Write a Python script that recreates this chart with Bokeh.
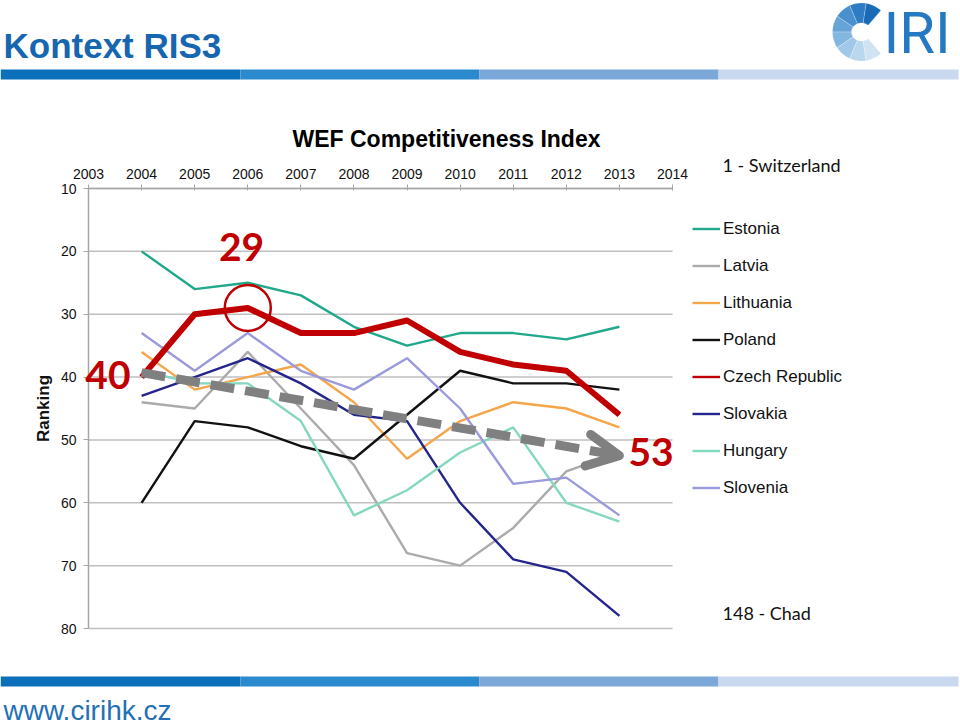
import math
from bokeh.plotting import figure
from bokeh.models import (Range1d, FixedTicker, Label, BoxAnnotation, PolyAnnotation,
                          Arrow, OpenHead, Legend, LegendItem, LinearAxis)
from bokeh.embed import file_html
from bokeh.resources import INLINE

# ---------------- data ----------------
years = [2004, 2005, 2006, 2007, 2008, 2009, 2010, 2011, 2012, 2013]
year_ticks = [2003, 2004, 2005, 2006, 2007, 2008, 2009, 2010, 2011, 2012, 2013, 2014]
rank_ticks = [10, 20, 30, 40, 50, 60, 70, 80]

estonia = [20, 26, 25, 27, 32, 35, 33, 33, 34, 32]
latvia = [44, 45, 36, 45, 54, 68, 70, 64, 55, 52]
lithuania = [36, 42, 40, 38, 44, 53, 47, 44, 45, 48]
poland = [60, 47, 48, 51, 53, 46, 39, 41, 41, 42]
czech = [40, 30, 29, 33, 33, 31, 36, 38, 39, 46]
slovakia = [43, 40, 37, 41, 46, 47, 60, 69, 71, 78]
hungary = [39, 41, 41, 47, 62, 58, 52, 48, 60, 63]
slovenia = [33, 39, 33, 39, 42, 37, 45, 57, 56, 62]

countries = ["Estonia", "Latvia", "Lithuania", "Poland", "Czech Republic",
             "Slovakia", "Hungary", "Slovenia"]
series = [estonia, latvia, lithuania, poland, czech, slovakia, hungary, slovenia]
colors = ["#1FA98A", "#ABABAB", "#F5A54A", "#111111", "#C00000",
          "#24248C", "#84D8C0", "#9A9ADC"]

arrow_from = (2004, 39.3)
arrow_to = (2013, 52.5)
start_label = "40"
peak_label = "29"
end_label = "53"
top_note = "1 - Switzerland"
bottom_note = "148 - Chad"

RED = "#C00000"
GRAY = "#808080"

# ------------- geometry of the chart box on the page -------------
W, H = 960, 726
FL, FT, FW, FH = 88, 188, 584, 440   # chart box (years 2003-2014, ranks 10-80)


def X(px):  # page pixel -> year coordinate
    return year_ticks[0] + (px - FL) * (year_ticks[-1] - year_ticks[0]) / FW


def Y(py):  # page pixel -> rank coordinate
    return rank_ticks[0] + (py - FT) * (rank_ticks[-1] - rank_ticks[0]) / FH


p = figure(width=W, height=H, x_range=Range1d(X(0), X(W)), y_range=Range1d(Y(H), Y(0)),
           x_axis_location=None, y_axis_location=None,
           output_backend="svg", toolbar_location=None,
           min_border=0, min_border_left=0, min_border_right=0,
           min_border_top=0, min_border_bottom=0)
p.outline_line_color = None
p.background_fill_color = "white"
p.border_fill_color = "white"
p.grid.visible = False

AX = "#A6A6A6"
FONT = "Liberation Sans"

xa = LinearAxis(fixed_location=rank_ticks[0], bounds=(year_ticks[0], year_ticks[-1]),
                ticker=FixedTicker(ticks=year_ticks))
xa.axis_line_color = AX
xa.axis_line_width = 1.5
xa.major_tick_line_color = AX
xa.major_tick_out = 4
xa.major_tick_in = 2
xa.minor_tick_line_color = None
xa.major_label_text_font = FONT
xa.major_label_text_font_size = "14px"
xa.major_label_text_color = "#111111"
xa.major_label_standoff = 6
p.add_layout(xa, "above")

ya = LinearAxis(fixed_location=year_ticks[0], bounds=(rank_ticks[0], rank_ticks[-1]),
                ticker=FixedTicker(ticks=rank_ticks))
ya.axis_line_color = AX
ya.axis_line_width = 1.5
ya.major_tick_line_color = AX
ya.major_tick_out = 5
ya.major_tick_in = 0
ya.minor_tick_line_color = None
ya.major_label_text_font = FONT
ya.major_label_text_font_size = "14px"
ya.major_label_text_color = "#111111"
ya.major_label_standoff = 7
ya.axis_label = "Ranking"
ya.axis_label_text_font = FONT
ya.axis_label_text_font_style = "bold"
ya.axis_label_text_font_size = "17px"
ya.axis_label_text_color = "#111111"
ya.axis_label_standoff = 5
p.add_layout(ya, "left")

# horizontal grid lines between the first and last year
p.segment(x0=[year_ticks[0]] * len(rank_ticks), x1=[year_ticks[-1]] * len(rank_ticks),
          y0=rank_ticks, y1=rank_ticks, line_color="#BFBFBF", line_width=1.5)

# ------------- series -------------
renderers = []
for name, vals, col in zip(countries, series, colors):
    renderers.append(p.line(years, vals, line_color=col, line_width=2.4))

# emphasised Czech line
p.line(years, czech, line_color=RED, line_width=6, line_join="round")
p.scatter([years[2]], [czech[2]], marker="circle", size=46, fill_color=None,
          line_color=RED, line_width=2.5)

legend = Legend(items=[LegendItem(label=n, renderers=[r]) for n, r in zip(countries, renderers)],
                location=(692, H - 499), padding=0, margin=0, spacing=14,
                label_height=23, glyph_height=23, glyph_width=28, label_standoff=3,
                label_text_font=FONT, label_text_font_size="17px",
                label_text_color="#111111",
                background_fill_alpha=0, border_line_color=None)
p.add_layout(legend)

p.add_layout(Arrow(end=OpenHead(size=32, line_width=9, line_color=GRAY,
                                line_cap="round", line_join="round"),
                   x_start=arrow_from[0], y_start=arrow_from[1],
                   x_end=arrow_to[0], y_end=arrow_to[1],
                   line_color=GRAY, line_width=9, line_dash="24 11"))


# ------------- texts (y = visual centre of the capitals) -------------
def lab(x, y, text, **kw):
    p.add_layout(Label(x=x, y=y, text=text, text_baseline="middle", **kw))


big = dict(text_font="Lato", text_font_style="bold", text_font_size="39px", text_color=RED)
lab(X(241), Y(246), peak_label, text_align="center", **big)
lab(X(130), Y(374), start_label, text_align="right", **big)
lab(X(628), Y(451), end_label, text_align="left", **big)

lab(X(292), Y(138), "WEF Competitiveness Index", text_font=FONT, text_font_style="bold",
    text_font_size="23px", text_color="#000000")
lab(X(722), Y(164), top_note, text_font="Lato", text_font_size="18px", text_color="#111111")
lab(X(722), Y(612), bottom_note, text_font="Lato", text_font_size="18px", text_color="#111111")

lab(X(3), Y(45), "Kontext RIS3", text_font=FONT, text_font_style="bold",
    text_font_size="35px", text_color="#1766B0")
lab(X(3), Y(710), "www.cirihk.cz", text_font=FONT, text_font_size="28px",
    text_color="#2470B5")

# ------------- header / footer bars -------------
bar_colors = ["#0C6FBA", "#2B89CD", "#7BA8D9", "#C7D8EF"]
bar_edges = [0, 240, 479, 718, 958]
for (y0, y1) in [(69, 79), (676, 686)]:
    for i, c in enumerate(bar_colors):
        p.add_layout(BoxAnnotation(left=X(bar_edges[i]), right=X(bar_edges[i + 1]),
                                   top=Y(y0), bottom=Y(y1), fill_color=c, fill_alpha=1,
                                   line_color=None))

# ------------- logo -------------
logo_cols = ["#1A6BB5", "#2E7DC4", "#4A90CE", "#66A4D8", "#84B7E0", "#A1C8E8",
             "#B9D7EE", "#CFE3F3"]
cx, cy = 861, 31.5
ro_x, ro_y, ri_x, ri_y = 29, 29, 10, 9
a0, a1 = 48, 312
n = len(logo_cols)
for i, c in enumerate(logo_cols):
    s = a0 + (a1 - a0) * i / n
    e = a0 + (a1 - a0) * (i + 1) / n
    angs = [s + (e - s) * k / 8 for k in range(9)]
    pxs = [cx + ro_x * math.cos(math.radians(a)) for a in angs] + \
          [cx + ri_x * math.cos(math.radians(a)) for a in reversed(angs)]
    pys = [cy - ro_y * math.sin(math.radians(a)) for a in angs] + \
          [cy - ri_y * math.sin(math.radians(a)) for a in reversed(angs)]
    p.add_layout(PolyAnnotation(xs=[X(v) for v in pxs], ys=[Y(v) for v in pys],
                                fill_color=c, fill_alpha=1, line_color="white",
                                line_width=0.8))
lab(X(883), Y(32), "IRI", text_font="Roboto", text_font_size="58px", text_color="#2479C2")

open("out.html", "w").write(file_html(p, INLINE))
